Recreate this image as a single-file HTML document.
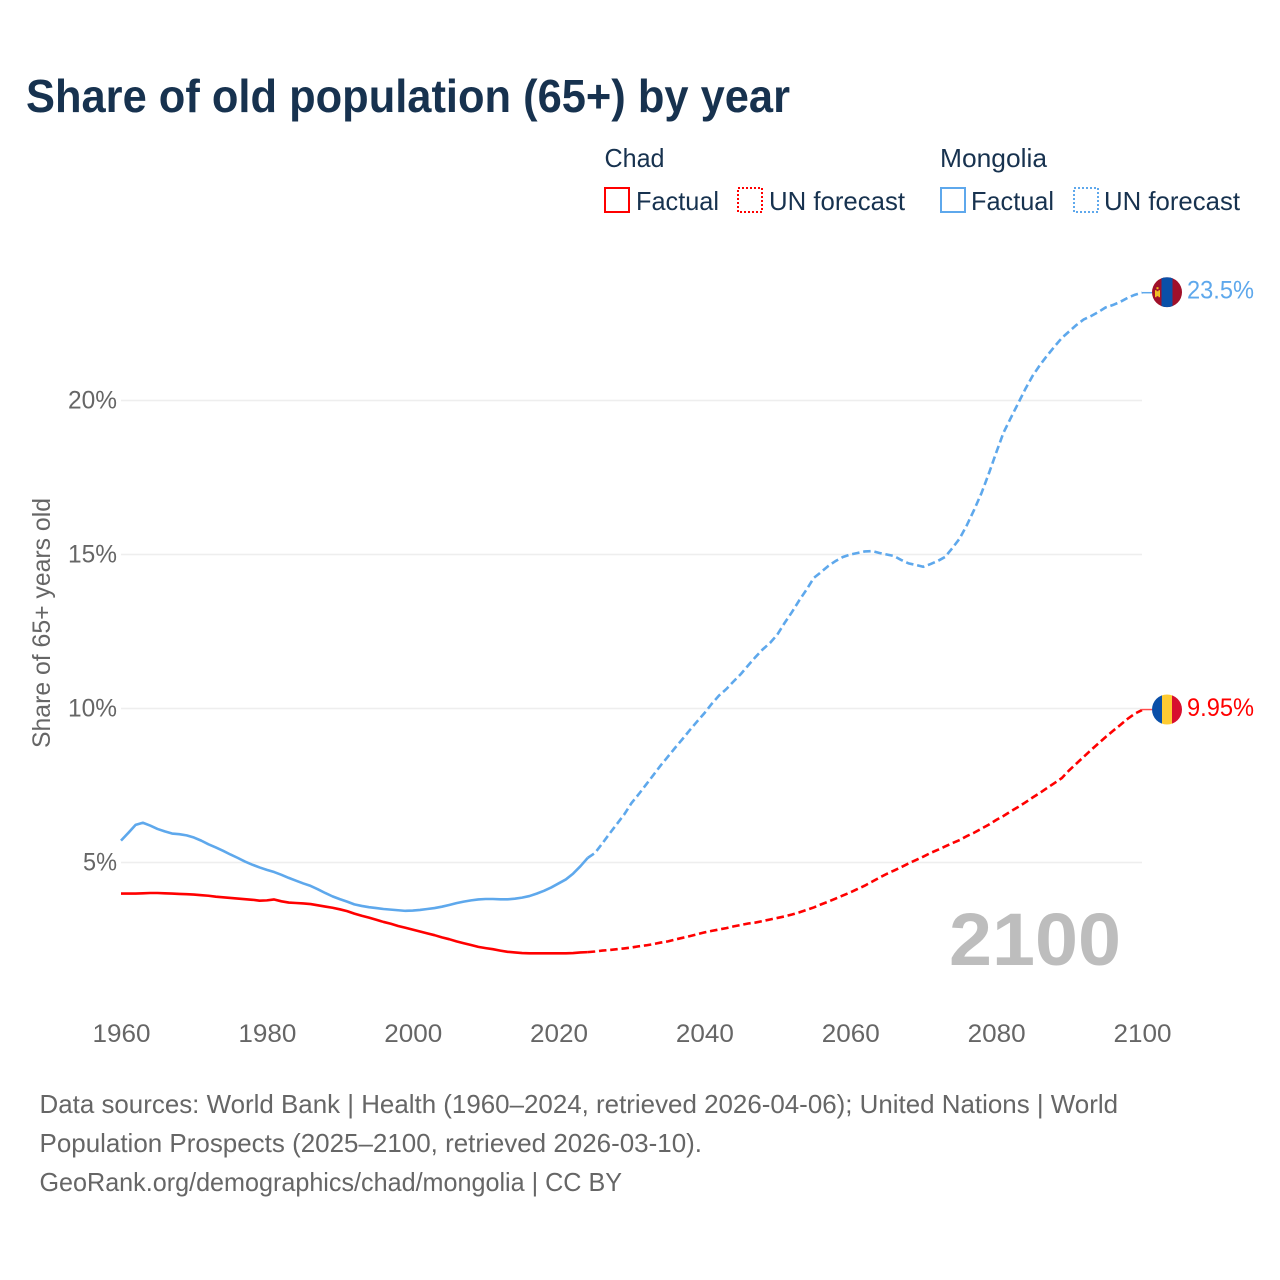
<!DOCTYPE html>
<html lang="en">
<head>
<meta charset="utf-8">
<title>Share of old population (65+) by year</title>
<style>
html,body{margin:0;padding:0;background:#fff;width:1280px;height:1280px;overflow:hidden}
svg{display:block}
text{font-family:"Liberation Sans",sans-serif}
</style>
</head>
<body>
<svg id="chart" xmlns="http://www.w3.org/2000/svg" width="1280" height="1280" viewBox="0 0 1280 1280">
  <defs>
    <clipPath id="flag-clip-mongolia"><circle cx="0" cy="0" r="15"/></clipPath>
    <clipPath id="flag-clip-chad"><circle cx="0" cy="0" r="15"/></clipPath>
  </defs>
  <rect width="1280" height="1280" fill="#fff"/>
  <text x="26" y="112" font-size="46" font-weight="700" fill="#17324f" textLength="764" lengthAdjust="spacingAndGlyphs">Share of old population (65+) by year</text>

  <g fill="#17324f" font-size="26">
    <text x="604.5" y="167" textLength="60" lengthAdjust="spacingAndGlyphs">Chad</text>
    <text x="940" y="167" textLength="107" lengthAdjust="spacingAndGlyphs">Mongolia</text>
    <rect x="605" y="188" width="24" height="24" fill="none" stroke="#ff0000" stroke-width="2"/>
    <text x="636" y="210" textLength="83" lengthAdjust="spacingAndGlyphs">Factual</text>
    <rect x="738" y="188" width="24" height="24" fill="none" stroke="#ff0000" stroke-width="2" stroke-dasharray="2 2"/>
    <text x="769" y="210" textLength="136" lengthAdjust="spacingAndGlyphs">UN forecast</text>
    <rect x="941" y="188" width="24" height="24" fill="none" stroke="#5ea8ec" stroke-width="2"/>
    <text x="971" y="210" textLength="83" lengthAdjust="spacingAndGlyphs">Factual</text>
    <rect x="1074" y="188" width="24" height="24" fill="none" stroke="#5ea8ec" stroke-width="2" stroke-dasharray="2 2"/>
    <text x="1104" y="210" textLength="136" lengthAdjust="spacingAndGlyphs">UN forecast</text>
  </g>

  <text transform="translate(50,623) rotate(-90)" text-anchor="middle" font-size="25" fill="#666" textLength="250" lengthAdjust="spacingAndGlyphs">Share of 65+ years old</text>

  <g id="grid"></g>
  <g id="y-ticks"></g>
  <g id="x-ticks"></g>

  <text x="949" y="965" font-size="74" font-weight="700" fill="#bdbdbd" textLength="172" lengthAdjust="spacingAndGlyphs">2100</text>

  <g id="series"></g>

  <g id="flag-mongolia">
    <g clip-path="url(#flag-clip-mongolia)">
      <rect x="-15" y="-15" width="30" height="30" fill="#a0102a"/>
      <rect x="-5.5" y="-15" width="11" height="30" fill="#0a50a8"/>
      <rect x="-12" y="-2" width="1.5" height="7" fill="#f5c518"/>
      <rect x="-8.5" y="-2" width="1.5" height="7" fill="#f5c518"/>
      <rect x="-10.5" y="-5" width="2" height="2" fill="#f5c518"/>
      <rect x="-10.5" y="-1" width="2" height="5" fill="#e8b93c"/>
    </g>
  </g>
  <g id="flag-chad">
    <g clip-path="url(#flag-clip-chad)">
      <rect x="-15" y="-15" width="10" height="30" fill="#0a4fa8"/>
      <rect x="-5" y="-15" width="10" height="30" fill="#fecb32"/>
      <rect x="5" y="-15" width="10" height="30" fill="#d70f2e"/>
    </g>
  </g>

  <g id="end-labels"></g>

  <g font-size="26" fill="#666">
    <text x="39.5" y="1113" textLength="1078.5" lengthAdjust="spacingAndGlyphs">Data sources: World Bank | Health (1960–2024, retrieved 2026-04-06); United Nations | World</text>
    <text x="39.5" y="1152" textLength="662.5" lengthAdjust="spacingAndGlyphs">Population Prospects (2025–2100, retrieved 2026-03-10).</text>
    <text x="39.5" y="1191" textLength="582.5" lengthAdjust="spacingAndGlyphs">GeoRank.org/demographics/chad/mongolia | CC BY</text>
  </g>
</svg>
<script>
const yTickValues = [5, 10, 15, 20];
const yTickLabels = ["5%", "10%", "15%", "20%"];
const xTickYears = [1960, 1980, 2000, 2020, 2040, 2060, 2080, 2100];
const factualStartYear = 1960;
const forecastStartYear = 2024;
const chadEndLabel = "9.95%";
const mongoliaEndLabel = "23.5%";

const chadFactual = [
  3.99,3.99,3.99,4.0,4.01,4.01,4.0,3.99,3.98,3.97,
  3.96,3.94,3.92,3.89,3.87,3.85,3.83,3.81,3.79,3.76,
  3.77,3.80,3.74,3.70,3.685,3.67,3.65,3.61,3.57,3.53,
  3.48,3.42,3.34,3.27,3.21,3.14,3.07,3.01,2.94,2.88,
  2.82,2.76,2.70,2.64,2.57,2.51,2.44,2.38,2.32,2.26,
  2.22,2.185,2.14,2.10,2.08,2.06,2.05,2.05,2.05,2.05,
  2.05,2.05,2.06,2.08,2.09
];
const chadForecast = [
  2.09,
  2.11,2.14,2.16,2.185,2.21,2.24,2.28,2.31,2.35,2.40,2.44,2.50,2.555,2.61,2.67,
  2.73,2.78,2.825,2.87,2.925,2.97,3.02,3.05,3.10,3.15,3.20,3.25,3.31,3.38,3.46,
  3.54,3.64,3.73,3.83,3.93,4.03,4.14,4.25,4.38,4.51,4.63,4.74,4.85,4.97,5.08,
  5.19,5.31,5.41,5.52,5.63,5.73,5.86,5.97,6.10,6.23,6.38,6.51,6.66,6.80,6.95,
  7.11,7.26,7.42,7.58,7.74,7.99,8.21,8.43,8.65,8.86,9.07,9.27,9.46,9.66,9.83,9.95
];
const mongoliaFactual = [
  5.71,5.96,6.22,6.29,6.20,6.09,6.01,5.94,5.92,5.88,
  5.81,5.71,5.59,5.49,5.38,5.26,5.15,5.03,4.93,4.84,
  4.76,4.69,4.60,4.50,4.41,4.32,4.24,4.13,4.01,3.90,
  3.81,3.73,3.64,3.59,3.55,3.52,3.49,3.47,3.45,3.43,
  3.44,3.46,3.49,3.52,3.565,3.62,3.68,3.73,3.77,3.80,
  3.815,3.815,3.805,3.805,3.825,3.86,3.91,3.99,4.08,4.19,
  4.32,4.45,4.64,4.88,5.15
];
const mongoliaForecast = [
  5.15,
  5.31,5.62,5.94,6.25,6.56,6.93,7.22,7.53,7.84,8.15,8.44,8.73,9.01,9.30,9.58,
  9.85,10.15,10.42,10.63,10.88,11.12,11.40,11.67,11.92,12.13,12.40,12.78,13.13,13.51,13.86,
  14.24,14.43,14.63,14.79,14.92,15.0,15.05,15.10,15.11,15.05,15.0,14.95,14.82,14.71,14.66,
  14.60,14.69,14.79,14.92,15.21,15.52,15.96,16.46,17.0,17.63,18.3,18.95,19.43,19.9,20.37,
  20.8,21.15,21.46,21.75,22.03,22.24,22.45,22.63,22.74,22.87,23.02,23.1,23.2,23.33,23.43,23.5
];

const NS = "http://www.w3.org/2000/svg";
function xScale(year) { return 121 + (year - 1960) * (1142 - 121) / 140; }
function yScale(v) { return 862.5 - (v - 5) * 30.8; }
function make(tag, attrs, text) {
  const el = document.createElementNS(NS, tag);
  for (const k in attrs) el.setAttribute(k, attrs[k]);
  if (text !== undefined) el.textContent = text;
  return el;
}
function linePath(startYear, values) {
  return values.map(function (v, i) {
    return (i ? "L" : "M") + xScale(startYear + i).toFixed(2) + " " + yScale(v).toFixed(2);
  }).join(" ");
}

const gridGroup = document.getElementById("grid");
const yTickGroup = document.getElementById("y-ticks");
yTickValues.forEach(function (v, i) {
  const line = make("line", {x1: xScale(1960), x2: xScale(2100), y1: yScale(v), y2: yScale(v), stroke: "#eeeeee", "stroke-width": 1.5});
  
  
  gridGroup.appendChild(line);
  const label = make("text", {x: 117, y: yScale(v) + 8, "text-anchor": "end", "font-size": 25, fill: "#666", textLength: yTickLabels[i].length === 2 ? 34 : 49, lengthAdjust: "spacingAndGlyphs"}, yTickLabels[i]);
  
  
  yTickGroup.appendChild(label);
});

const xTickGroup = document.getElementById("x-ticks");
xTickYears.forEach(function (year) {
  const label = make("text", {x: xScale(year) + 0.5, y: 1042, "text-anchor": "middle", "font-size": 25, fill: "#666", textLength: 58, lengthAdjust: "spacingAndGlyphs"}, String(year));
  
  
  xTickGroup.appendChild(label);
});

const seriesGroup = document.getElementById("series");
const RED = "#ff0000";
const BLUE = "#5ea8ec";

const chadFactualLine = make("path", {d: linePath(factualStartYear, chadFactual), fill: "none", stroke: RED, "stroke-width": 2.6, "stroke-linejoin": "round"});


seriesGroup.appendChild(chadFactualLine);

const chadForecastLine = make("path", {d: linePath(forecastStartYear, chadForecast), fill: "none", stroke: RED, "stroke-width": 2.6, "stroke-dasharray": "7.5 3.8"});


seriesGroup.appendChild(chadForecastLine);

const mongoliaFactualLine = make("path", {d: linePath(factualStartYear, mongoliaFactual), fill: "none", stroke: BLUE, "stroke-width": 2.6, "stroke-linejoin": "round"});


seriesGroup.appendChild(mongoliaFactualLine);

const mongoliaForecastLine = make("path", {d: linePath(forecastStartYear, mongoliaForecast), fill: "none", stroke: BLUE, "stroke-width": 2.6, "stroke-dasharray": "7.5 3.8"});


seriesGroup.appendChild(mongoliaForecastLine);

const chadEndY = yScale(chadForecast[chadForecast.length - 1]);
const mongoliaEndY = yScale(mongoliaForecast[mongoliaForecast.length - 1]);
const endX = xScale(2100);

const chadConnector = make("line", {x1: endX, x2: endX + 10, y1: chadEndY - 0.5, y2: chadEndY - 0.5, stroke: "#ff4d4d", "stroke-width": 1.5});


seriesGroup.appendChild(chadConnector);

const mongoliaConnector = make("line", {x1: endX, x2: endX + 10, y1: mongoliaEndY, y2: mongoliaEndY, stroke: BLUE, "stroke-width": 1.5});


seriesGroup.appendChild(mongoliaConnector);

document.getElementById("flag-chad").setAttribute("transform", "translate(" + (endX + 25) + "," + (chadEndY - 0.5) + ")");
document.getElementById("flag-mongolia").setAttribute("transform", "translate(" + (endX + 25) + "," + (mongoliaEndY - 0.5) + ")");

const endLabels = document.getElementById("end-labels");
const chadLabel = make("text", {x: 1187, y: chadEndY + 6, "font-size": 25, fill: RED, textLength: 67, lengthAdjust: "spacingAndGlyphs"}, chadEndLabel);


endLabels.appendChild(chadLabel);

const mongoliaLabel = make("text", {x: 1187, y: mongoliaEndY + 6, "font-size": 25, fill: BLUE, textLength: 67, lengthAdjust: "spacingAndGlyphs"}, mongoliaEndLabel);


endLabels.appendChild(mongoliaLabel);
</script>
</body>
</html>
